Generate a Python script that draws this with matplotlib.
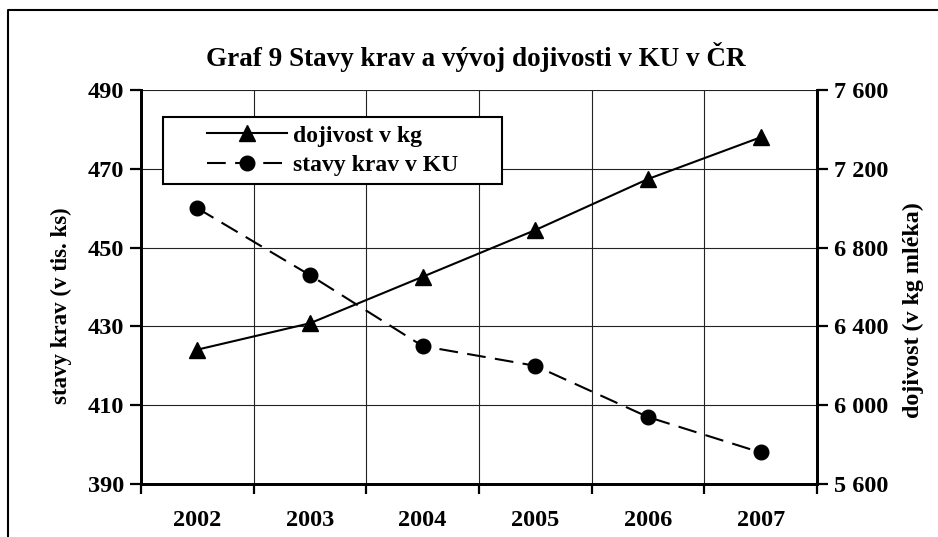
import matplotlib.pyplot as plt
from matplotlib.ticker import FixedLocator, FuncFormatter, NullFormatter
from matplotlib.lines import Line2D
from matplotlib.patches import Rectangle

plt.rcParams['font.family'] = ['Liberation Serif', 'DejaVu Serif']
plt.rcParams['font.weight'] = 'bold'

roky = ['2002', '2003', '2004', '2005', '2006', '2007']
stavy_krav = [460, 443, 425, 420, 407, 398]          # tis. ks
dojivost = [6282, 6416, 6652, 6889, 7148, 7360]      # kg mleka

fig = plt.figure(figsize=(9.38, 5.37), dpi=100)
ax1 = fig.add_axes([141/938, 53/537, 676/938, 394/537])
ax2 = ax1.twinx()

x = list(range(len(roky)))
fs = 17.5

l2, = ax1.plot(x, stavy_krav, color='black', lw=1.5, ls=(0, (9, 4.5)),
               marker='o', ms=10.5, label='stavy krav v KU')
l1, = ax2.plot(x, dojivost, color='black', lw=1.5, ls='-',
               marker='^', ms=11, label='dojivost v kg')

ax1.set_xlim(-0.5, 5.5)
ax1.set_ylim(390, 490)
ax1.set_yticks([390, 410, 430, 450, 470, 490])
ax2.set_ylim(5600, 7600)
ax2.set_yticks([5600, 6000, 6400, 6800, 7200, 7600])
ax2.yaxis.set_major_formatter(FuncFormatter(lambda v, p: f'{int(v):,}'.replace(',', ' ')))

# kategorie: mrizka na hranicich, popisky uprostred
ax1.xaxis.set_major_locator(FixedLocator([i - 0.5 for i in range(len(roky) + 1)]))
ax1.xaxis.set_major_formatter(NullFormatter())
ax1.xaxis.set_minor_locator(FixedLocator(x))
ax1.set_xticklabels(roky, minor=True)
ax1.tick_params(axis='x', which='minor', length=0, pad=19, labelsize=fs)
ax1.tick_params(axis='x', which='major', length=7, width=1.6, direction='out')
ax1.tick_params(axis='y', length=8, width=1.6, labelsize=fs, pad=4)
ax2.tick_params(axis='y', length=8, width=1.6, labelsize=fs, pad=4)

ax1.grid(True, which='major', color='#222222', lw=0.8)
ax1.set_axisbelow(True)

for ax in (ax1, ax2):
    ax.spines['top'].set_visible(False)
    ax.spines['left'].set_linewidth(2)
    ax.spines['right'].set_linewidth(2)
    ax.spines['bottom'].set_linewidth(2)

ax1.set_ylabel('stavy krav (v tis. ks)', fontsize=16.5, fontweight='bold')
ax2.set_ylabel('dojivost (v kg mléka)', fontsize=17.3, fontweight='bold')
ax1.yaxis.set_label_coords(-0.102, 0.452)
ax2.yaxis.set_label_coords(1.127, 0.442)

fig.text(476/938, 1 - 57/537, 'Graf 9 Stavy krav a vývoj dojivosti v KU v ČR',
         ha='center', va='center', fontsize=19.5, fontweight='bold')

# ramecek legendy jako v Excelu (sirsi nez text)
ax2.add_patch(Rectangle((0.0325, 0.761), 0.5015, 0.1705, transform=ax2.transAxes,
                        facecolor='white', edgecolor='black', lw=1.5, zorder=4))
leg = ax2.legend([l1, l2], ['dojivost v kg', 'stavy krav v KU'],
                 loc='center left', bbox_to_anchor=(0.0976, 0.846),
                 borderaxespad=0, borderpad=0, frameon=False, fontsize=17,
                 handlelength=3.4, labelspacing=0.35, handletextpad=0.25)
leg.set_zorder(5)

# ramecek obrazku (vlevo a nahore)
fig.add_artist(Line2D([8/938, 8/938, 1], [0, 1 - 10/537, 1 - 10/537],
                      transform=fig.transFigure, color='black', lw=1.5))

fig.savefig('out.png', dpi=100)
